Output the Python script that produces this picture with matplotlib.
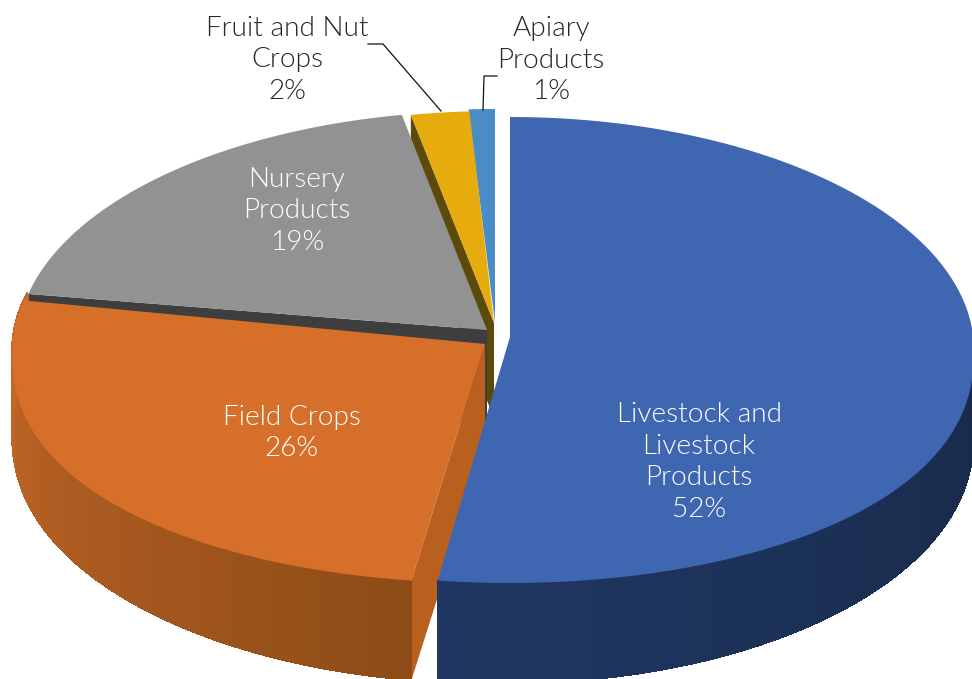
import matplotlib
matplotlib.use('Agg')
import matplotlib.pyplot as plt
from matplotlib.collections import PolyCollection
import numpy as np

plt.rcParams['font.family'] = ['Lato', 'DejaVu Sans']

labels = ['Livestock and\nLivestock\nProducts', 'Field Crops', 'Nursery\nProducts', 'Fruit and Nut\nCrops', 'Apiary\nProducts']
values = [52.49, 26.01, 18.6, 2.0, 0.9]
top_colors = ['#3f66b0', '#d66f2a', '#929292', '#e6ab0c', '#4a8cc6']
cut_colors = ['#1f3864', '#b9601f', '#3e3e3e', '#5c4a0a', '#2c5a85']

# ellipse centre and tip of each slice, in pixels of the picture
centres = [(510, 350), (485, 351), (487, 345), (496, 345), (495, 345)]
tips = [(510, 337), (485, 344), (487, 330), (494, 323), (495, 323)]
radii = [(464, 233), (473, 232), (470, 234), (470, 234), (470, 236)]
text_pos = [(699, 462), (292, 433), (297, 211), (287, 60), (551, 60)]
text_cols = ['white', 'white', 'white', '#262626', '#262626']

edges = np.cumsum([0] + values) / 100 * 2 * np.pi


def rim(i, t):
    cx, cy = centres[i]
    rx, ry = radii[i]
    c = np.cos(t)
    x = cx + rx * np.sin(t)
    # front half is flatter in the original's perspective
    y = np.where(c >= 0, cy - ry * c, cy + ry * np.abs(c) ** 0.87)
    return x, y


def depth(t):
    return 100 - 20 * np.sin(t) ** 2


def side_wall(ax, i, t0, t1, col0, col1, n=240):
    ts = np.linspace(t0, t1, n + 1)
    x, y = rim(i, ts)
    d = depth(ts)
    c0 = np.array(matplotlib.colors.to_rgb(col0))
    c1 = np.array(matplotlib.colors.to_rgb(col1))
    quads = []
    cols = []
    for k in range(n):
        quads.append([(x[k], y[k]), (x[k + 1], y[k + 1]), (x[k + 1], y[k + 1] + d[k + 1]), (x[k], y[k] + d[k])])
        cols.append(c0 + (c1 - c0) * k / (n - 1))
    ax.add_collection(PolyCollection(quads, facecolors=cols, edgecolors=cols, linewidths=0.6, antialiaseds=False))


def top_face(ax, i):
    ts = np.linspace(edges[i], edges[i + 1], 200)
    x, y = rim(i, ts)
    ax.fill(np.r_[tips[i][0], x], np.r_[tips[i][1], y], color=top_colors[i], lw=0)


fig = plt.figure(figsize=(9.72, 6.79), dpi=100)
ax = fig.add_axes([0, 0, 1, 1])
ax.set_xlim(0, 972)
ax.set_ylim(679, 0)
ax.axis('off')

# cut face of the small slices, the neighbours paint over most of it
for i, t, d in [(3, edges[3], 95), (2, edges[2], 95)]:
    x, y = rim(i, np.array(t))
    tx, ty = tips[i]
    ax.fill([x, tx, tx, x], [y, ty, ty + d, y + d], color=cut_colors[i], lw=0)

top_face(ax, 4)
top_face(ax, 3)
top_face(ax, 2)

# orange slice
x, y = rim(1, np.array(edges[1]))
tx, ty = tips[1]
ax.fill([tx, x, x, tx], [ty, y, y + 100, ty + 104], color=cut_colors[1], lw=0)
side_wall(ax, 1, edges[1], 1.58 * np.pi, '#8d4c17', '#c8692a')
top_face(ax, 1)

# blue slice
side_wall(ax, 0, np.pi / 2, edges[1], '#182a48', '#203763')
top_face(ax, 0)

ax.plot([368, 383, 441], [44, 44, 111], color='#111111', lw=0.9)
ax.plot([497, 484, 483], [76, 76, 110], color='#111111', lw=0.9)

for label, v, pos, col in zip(labels, values, text_pos, text_cols):
    ax.text(pos[0], pos[1], f'{label}\n{v:.0f}%', color=col, fontsize=20.2, fontweight=300,
            ha='center', va='center', multialignment='center', linespacing=1.34)

fig.savefig('out.png', dpi=100)
